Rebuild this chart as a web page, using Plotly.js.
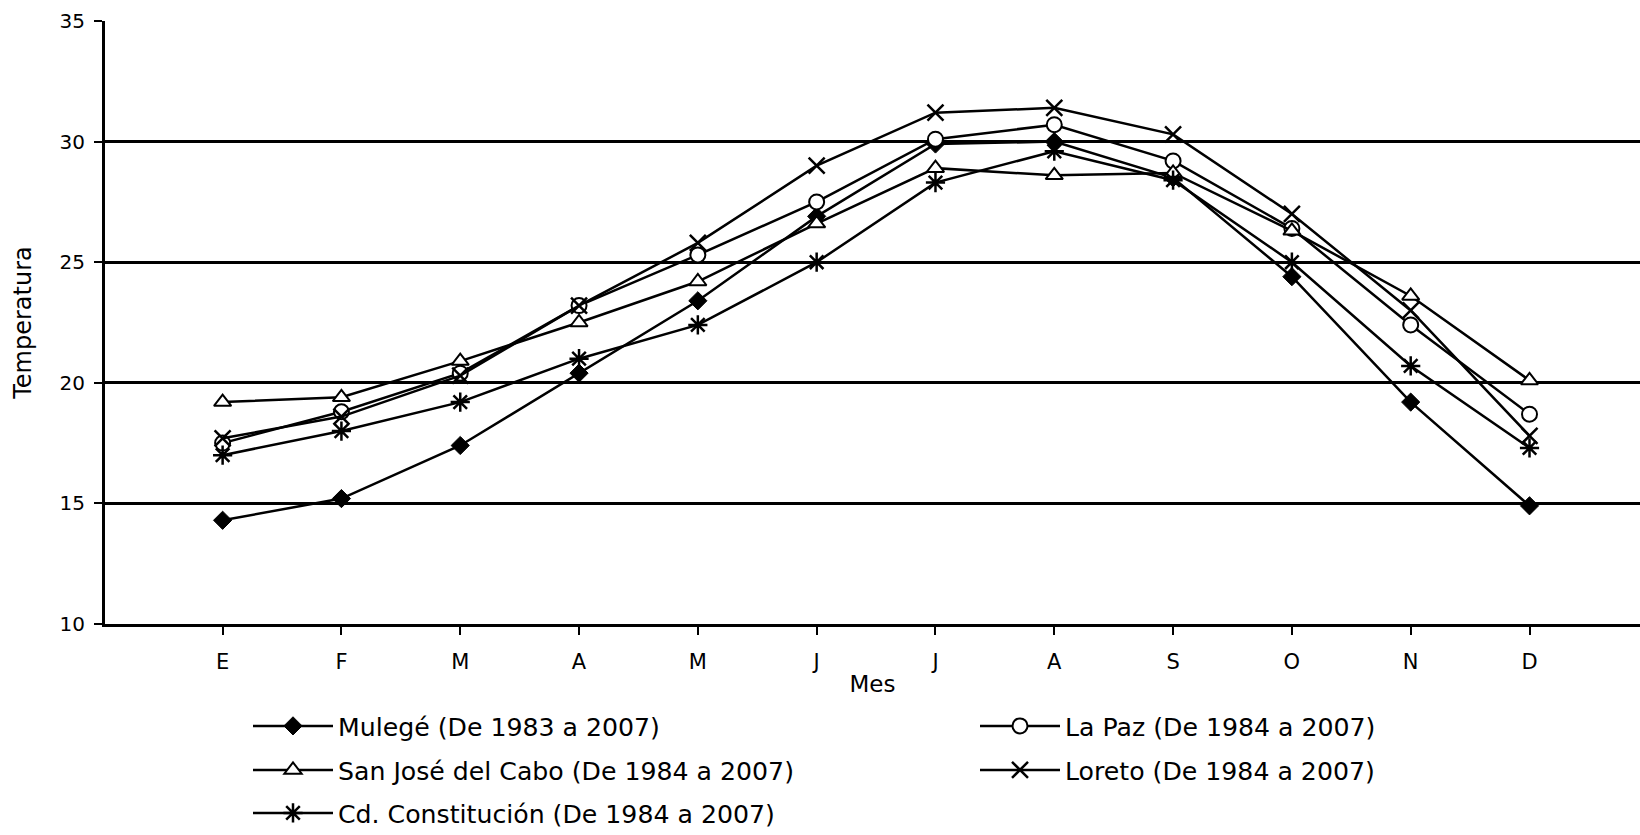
<!DOCTYPE html>
<html>
<head>
<meta charset="utf-8">
<script src="https://cdn.plot.ly/plotly-3.0.1.min.js"></script>
<style>
html,body{margin:0;padding:0;background:#fff;}
#chart{width:1640px;height:835px;}
</style>
</head>
<body>
<div id="chart"></div>
<script>
const monthLabels = ['E','F','M','A','M','J','J','A','S','O','N','D'];
const monthIndex = [0,1,2,3,4,5,6,7,8,9,10,11];

const seriesNames = [
  'Mulegé (De 1983 a 2007)',
  'La Paz (De 1984 a 2007)',
  'San José del Cabo (De 1984 a 2007)',
  'Loreto (De 1984 a 2007)',
  'Cd. Constitución (De 1984 a 2007)'
];

const mulege       = [14.3, 15.2, 17.4, 20.4, 23.4, 26.9, 29.9, 30.0, 28.5, 24.4, 19.2, 14.9];
const laPaz        = [17.5, 18.8, 20.4, 23.2, 25.3, 27.5, 30.1, 30.7, 29.2, 26.4, 22.4, 18.7];
const sanJose      = [19.2, 19.4, 20.9, 22.5, 24.2, 26.6, 28.9, 28.6, 28.7, 26.3, 23.6, 20.1];
const loreto       = [17.7, 18.6, 20.3, 23.2, 25.8, 29.0, 31.2, 31.4, 30.3, 27.0, 23.0, 17.8];
const constitucion = [17.0, 18.0, 19.2, 21.0, 22.4, 25.0, 28.3, 29.6, 28.4, 25.0, 20.7, 17.3];

const seriesValues = [mulege, laPaz, sanJose, loreto, constitucion];

const FONT = '"DejaVu Sans", "Liberation Sans", Arial, sans-serif';

const markerStyles = [
  {symbol: 'diamond', size: 14, color: '#000', line: {color: '#000', width: 1}},
  {symbol: 'circle', size: 15, color: '#fff', line: {color: '#000', width: 2}},
  {symbol: 'triangle-up', size: 15, color: '#fff', line: {color: '#000', width: 2}},
  {symbol: 'x-thin-open', size: 16, color: '#000', line: {color: '#000', width: 2.5}},
  {symbol: 'asterisk-open', size: 16, color: '#000', line: {color: '#000', width: 2.5}}
];

const legendIds = ['legend', 'legend2', 'legend3', 'legend4', 'legend5'];
const legendPos = [
  {x: 248/1640, y: 1 - 726/835},
  {x: 975/1640, y: 1 - 726/835},
  {x: 248/1640, y: 1 - 770/835},
  {x: 975/1640, y: 1 - 770/835},
  {x: 248/1640, y: 1 - 813/835}
];

const traces = seriesValues.map((vals, i) => ({
  type: 'scatter',
  mode: 'lines+markers',
  x: monthIndex,
  y: vals,
  name: seriesNames[i],
  legend: legendIds[i],
  line: {color: '#000', width: 2.5},
  marker: markerStyles[i],
  cliponaxis: false
}));

const layout = {
  width: 1640,
  height: 835,
  paper_bgcolor: '#fff',
  plot_bgcolor: '#fff',
  margin: {l: 105, r: 0, t: 21, b: 211},
  font: {family: FONT, color: '#000', size: 20},
  showlegend: true,
  xaxis: {
    range: [-0.99, 11.93],
    tickvals: monthIndex,
    ticktext: monthLabels,
    ticks: 'outside',
    ticklen: 8,
    tickwidth: 2,
    tickcolor: '#000',
    ticklabelstandoff: 9,
    showline: true,
    linecolor: '#000',
    linewidth: 3,
    showgrid: false,
    zeroline: false,
    tickfont: {family: FONT, size: 21, color: '#000'},
    title: {text: 'Mes', font: {family: FONT, size: 23, color: '#000'}, standoff: 3}
  },
  yaxis: {
    range: [10, 35],
    tick0: 10,
    dtick: 5,
    ticks: 'outside',
    ticklen: 8,
    tickwidth: 2,
    tickcolor: '#000',
    ticklabelstandoff: 5,
    showline: true,
    linecolor: '#000',
    linewidth: 3,
    showgrid: true,
    gridcolor: '#000',
    gridwidth: 3,
    zeroline: false,
    tickfont: {family: FONT, size: 20, color: '#000'},
    title: {text: 'Temperatura', font: {family: FONT, size: 24, color: '#000'}, standoff: 22}
  }
};

legendIds.forEach((id, i) => {
  layout[id] = {
    xref: 'container', yref: 'container',
    x: legendPos[i].x, y: legendPos[i].y,
    xanchor: 'left', yanchor: 'middle',
    orientation: 'h',
    itemwidth: 80,
    bgcolor: 'rgba(0,0,0,0)',
    borderwidth: 0,
    font: {family: FONT, size: 25.2, color: '#000'}
  };
});

Plotly.newPlot('chart', traces, layout, {displayModeBar: false, staticPlot: true});
</script>
</body>
</html>
